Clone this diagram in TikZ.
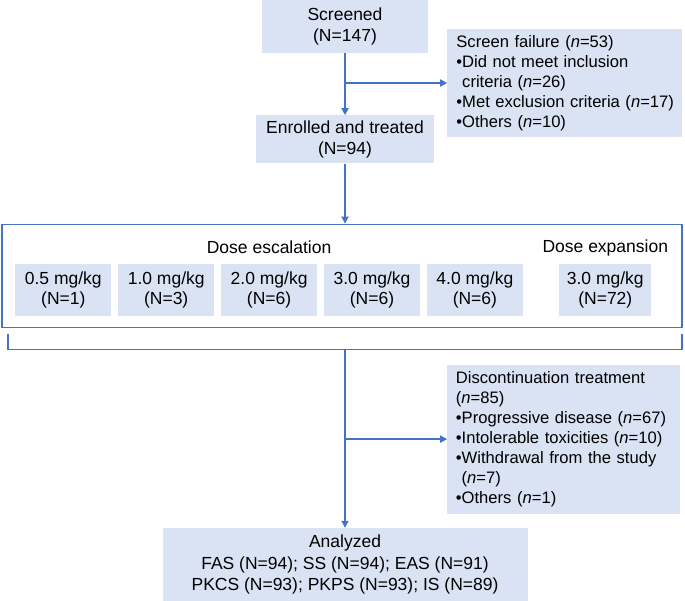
\documentclass[tikz,border=0pt]{standalone}
\usepackage{fontspec}
\setmainfont{Liberation Sans}
\usetikzlibrary{arrows.meta,positioning}
\definecolor{boxfill}{HTML}{DAE3F3}
\definecolor{flowblue}{HTML}{4472C4}
\newcommand{\bul}{\textbullet}
\newcommand{\ind}{\phantom{\textbullet}}

\begin{document}
\begin{tikzpicture}[x=1pt,y=1pt,>={Triangle[length=7pt,width=7pt]},
 font=\fontsize{17.5}{20.5}\selectfont,
 box/.style={fill=boxfill,inner sep=0pt,align=center},
 listbox/.style={fill=boxfill,inner xsep=9pt,inner ysep=0pt,align=left,font=\fontsize{16.6}{20}\selectfont},
 dosebox/.style={box,minimum width=96pt,minimum height=52pt},
 flow/.style={draw=flowblue,line width=1.6pt}]
\useasboundingbox (0,0) rectangle (685,-600);
\node[box,minimum width=166pt,minimum height=53pt] (screen) at (345,-26.5) {Screened\\(N=147)};
\node[box,minimum width=178pt,minimum height=48pt,below=62pt of screen] (enrol) {Enrolled and treated\\(N=94)};
\node[listbox,text width=217pt,minimum height=108pt,anchor=north west] (fail) at ([xshift=19pt,yshift=-29pt]screen.north east)
 {Screen failure (\textit{n}=53)\\\bul Did not meet inclusion\\\ind criteria (\textit{n}=26)\\\mbox{\bul Met exclusion criteria (\textit{n}=17)}\\\bul Others (\textit{n}=10)};
% dose groups
\node[draw=flowblue,line width=1.8pt,minimum width=680pt,minimum height=103pt,anchor=north] (dose) at ([xshift=-3pt,yshift=-60pt]enrol.south) {};
\node[dosebox,anchor=north west] (d1) at ([xshift=14pt,yshift=-40pt]dose.north west) {0.5 mg/kg\\(N=1)};
\foreach \i/\j/\dd/\nn in {2/1/1.0/3,3/2/2.0/6,4/3/3.0/6,5/4/4.0/6}
  \node[dosebox,right=6.5pt of d\j] (d\i) {\dd{} mg/kg\\(N=\nn)};
\node[dosebox,minimum width=92pt,right=36pt of d5] (d6) {3.0 mg/kg\\(N=72)};
\node (esc) at ([yshift=16pt]d3.north) {Dose escalation};
\node (exp) at ([yshift=16pt]d6.north) {Dose expansion};
\node[listbox,text width=216pt,inner xsep=8.5pt,minimum height=149pt,anchor=north west] (disc) at ([yshift=-36pt]dose.south -| fail.west)
 {Discontinuation treatment\\(\textit{n}=85)\\\mbox{\bul Progressive disease (\textit{n}=67)}\\\mbox{\bul Intolerable toxicities (\textit{n}=10)}\\\bul Withdrawal from the study\\\ind(\textit{n}=7)\\\bul Others (\textit{n}=1)};
\node[box,minimum width=365pt,minimum height=73pt,anchor=north,font=\fontsize{17.5}{21.5}\selectfont] (an) at ([yshift=-14pt]disc.south -| screen.south)
 {Analyzed\\FAS (N=94); SS (N=94); EAS (N=91)\\PKCS (N=93); PKPS (N=93); IS (N=89)};
% bracket under the dose groups
\coordinate (bl) at ([xshift=7pt,yshift=-6pt]dose.south west);
\coordinate (br) at ([xshift=-1pt,yshift=-6pt]dose.south east);
\path (bl -| screen.south) ++(0,-15) coordinate (bm);
% connectors
\draw[flow,->] (screen) -- (enrol);
\draw[flow,->] (screen.south |- fail.west) -- (fail.west);
\draw[flow,->] (enrol) -- (enrol.south |- dose.north);
\draw[flow] (bl) |- (bm) -| (br);
\draw[flow,->] (bm) -- (an.north);
\draw[flow,->] (bm |- disc.west) -- (disc.west);
\end{tikzpicture}
\end{document}
